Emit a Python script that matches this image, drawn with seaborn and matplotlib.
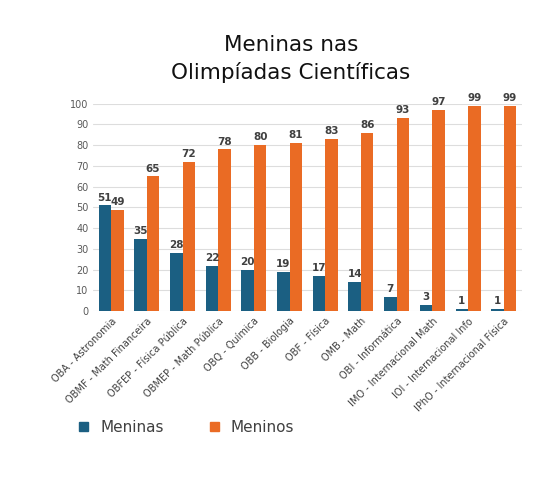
import matplotlib
matplotlib.use("Agg")
import matplotlib.pyplot as plt
import seaborn as sns
import pandas as pd
from matplotlib.patches import Patch

categorias = ["OBA - Astronomia", "OBMF - Math Financeira", "OBFEP - Física Pública",
              "OBMEP - Math Pública", "OBQ - Química", "OBB - Biologia", "OBF - Física",
              "OMB - Math", "OBI - Informática", "IMO - Internacional Math",
              "IOI - Internacional Info", "IPhO - Internacional Física"]
meninas = [51, 35, 28, 22, 20, 19, 17, 14, 7, 3, 1, 1]
meninos = [49, 65, 72, 78, 80, 81, 83, 86, 93, 97, 99, 99]

df = pd.DataFrame({"Categoria": categorias * 2,
                   "Valor": meninas + meninos,
                   "Grupo": ["Meninas"] * len(categorias) + ["Meninos"] * len(categorias)})

sns.set_theme(style="white")
plt.rcParams['font.family'] = ['DejaVu Sans']
fig = plt.figure(figsize=(5.49, 4.94), dpi=100)
ax = fig.add_axes([0.17, 0.37, 0.78, 0.42])
sns.barplot(data=df, x="Categoria", y="Valor", hue="Grupo",
            palette={"Meninas": "#1b5f82", "Meninos": "#ea6b24"},
            ax=ax, width=0.7, saturation=1, legend=False, linewidth=0)
for c in ax.containers:
    ax.bar_label(c, fontsize=7.5, fontweight="bold", color="#404040", padding=2)
ax.set_ylim(0, 100)
ax.set_yticks(range(0, 101, 10))
ax.tick_params(axis="y", labelsize=7, colors="#595959", length=0)
ax.tick_params(axis="x", labelsize=7, colors="#404040", length=0)
ax.set_xticks(range(len(categorias)))
ax.set_xticklabels(categorias, rotation=45, ha="right", rotation_mode="anchor")
ax.grid(axis="y", color="#dddddd", linewidth=0.8)
ax.set_axisbelow(True)
ax.set_xlabel("")
ax.set_ylabel("")
sns.despine(ax=ax, left=True, bottom=True)
fig.text(0.53, 0.88, "Meninas nas\nOlimpíadas Científicas", ha="center", va="center",
         fontsize=15.5, linespacing=1.4, color="#111111")
fig.legend(handles=[Patch(color="#1b5f82", label="Meninas"), Patch(color="#ea6b24", label="Meninos")],
           loc="center", bbox_to_anchor=(0.34, 0.135), ncol=2, frameon=False,
           fontsize=11, handlelength=0.6, handleheight=0.6, columnspacing=3,
           labelcolor="#404040")
fig.savefig("out.png", dpi=100)
